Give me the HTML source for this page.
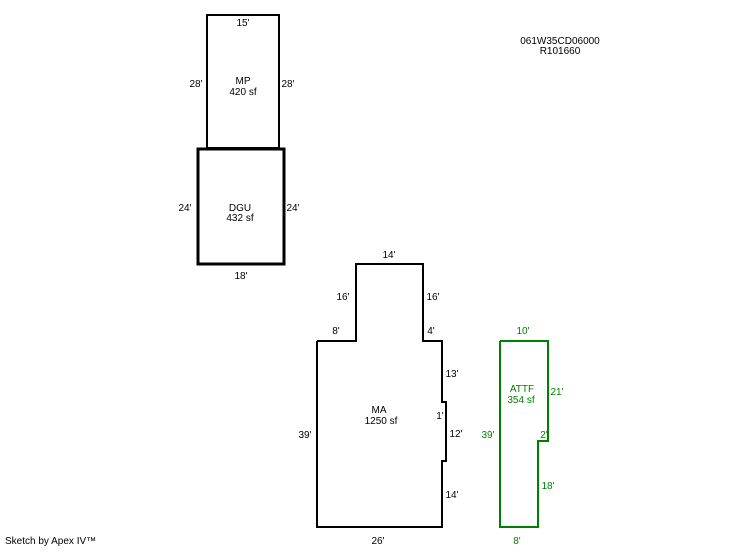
<!DOCTYPE html><html><head><style>body{margin:0;background:#fff}svg text{font-family:"Liberation Sans",sans-serif;font-size:10px}</style></head><body>
<svg width="746" height="547" xmlns="http://www.w3.org/2000/svg">
<g fill="none" stroke="#000" stroke-width="2">
<rect x="207" y="15" width="72" height="133"/>
<rect x="198" y="149" width="86" height="115" stroke-width="3"/>
<polyline points="317,341 356,341 356,264 423,264 423,341 442,341 442,402 446,402 446,461 442,461 442,527 317,527 317,341"/>
</g>
<polyline points="500,341 548,341 548,441 538,441 538,527 500,527 500,341" fill="none" stroke="#008000" stroke-width="2"/>
<g fill="#000" text-anchor="middle">
<text x="243" y="26">15'</text><text x="196" y="87">28'</text><text x="288" y="87">28'</text>
<text x="243" y="84">MP</text><text x="243" y="95">420 sf</text>
<text x="185" y="211">24'</text><text x="293" y="211">24'</text>
<text x="240" y="211">DGU</text><text x="240" y="221">432 sf</text>
<text x="241" y="279">18'</text>
<text x="389" y="258">14'</text><text x="343" y="300">16'</text><text x="433" y="300">16'</text>
<text x="336" y="334">8'</text><text x="431" y="334">4'</text>
<text x="452" y="377">13'</text><text x="440" y="419">1'</text><text x="456" y="437">12'</text><text x="452" y="498">14'</text>
<text x="379" y="413">MA</text><text x="381" y="413" dy="11">1250 sf</text>
<text x="305" y="438">39'</text><text x="378" y="544">26'</text>
<text x="560" y="44">061W35CD06000</text><text x="560" y="54">R101660</text>
</g>
<g fill="#008000" text-anchor="middle">
<text x="523" y="334">10'</text><text x="522" y="392">ATTF</text><text x="521" y="403">354 sf</text>
<text x="557" y="395">21'</text><text x="488" y="438">39'</text><text x="544" y="438">2'</text>
<text x="548" y="489">18'</text><text x="517" y="544">8'</text>
</g>
<text x="5" y="544" fill="#000">Sketch by Apex IV™</text>
</svg></body></html>
